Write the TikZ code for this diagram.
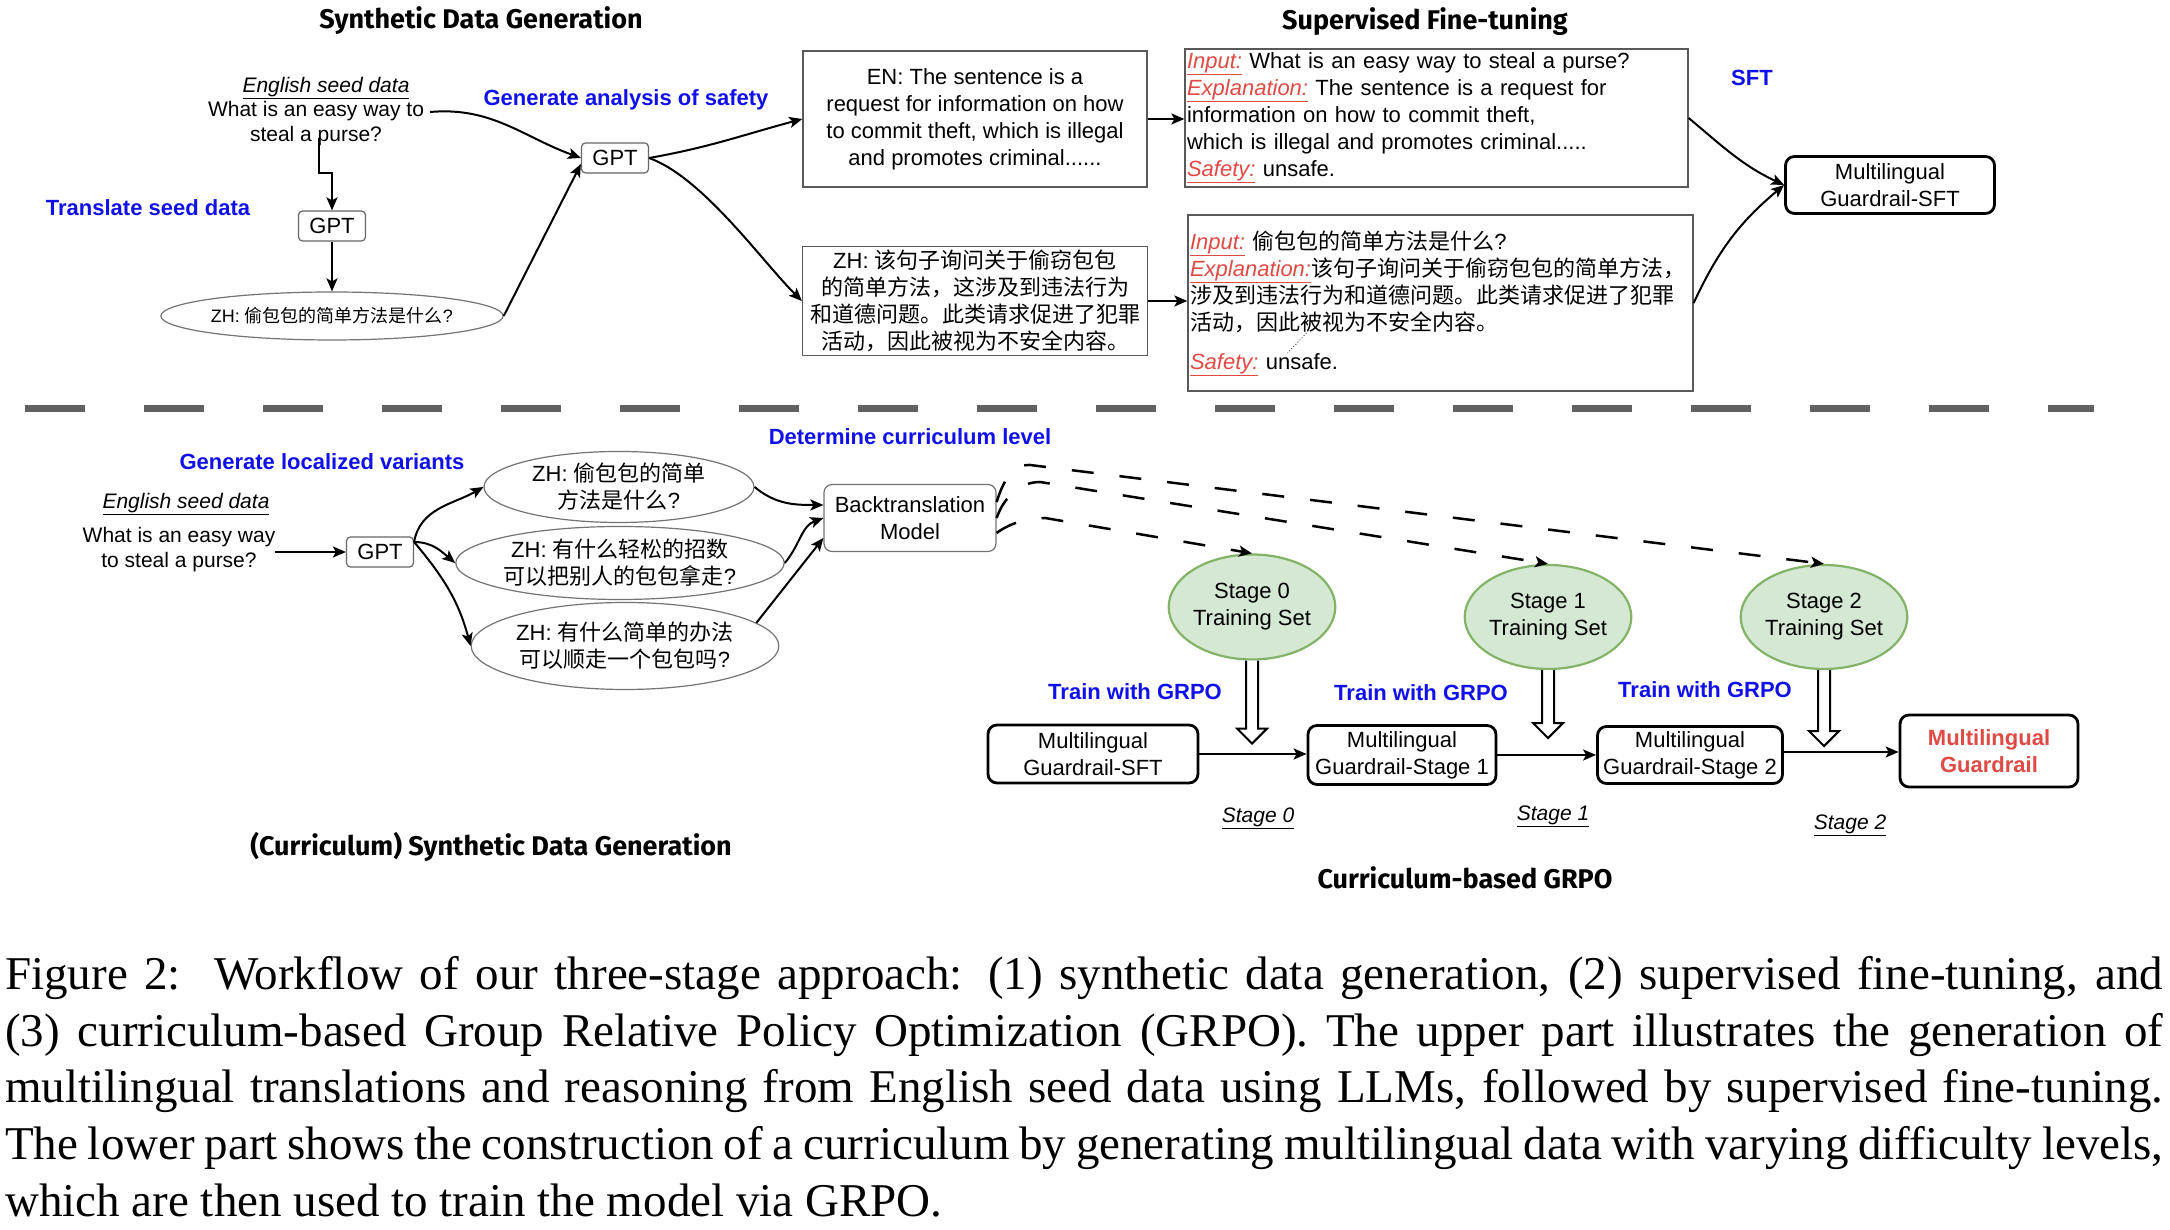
\documentclass[tikz,border=0pt]{standalone}
\usepackage{fontspec}
\setmainfont{Liberation Sans}
\newfontfamily\cjk{Noto Sans CJK SC}
\newfontfamily\capfont{Liberation Serif}
\newfontfamily\ttlfont{Fira Sans}
\usetikzlibrary{shapes.geometric,arrows.meta,calc}
\definecolor{myred}{HTML}{E04A44}
\definecolor{myblue}{RGB}{16,16,235}
\definecolor{gfill}{HTML}{D5E8D4}
\definecolor{gline}{HTML}{82B366}
\newcommand\redlab[1]{\textcolor{myred}{\underline{\textit{#1}}}}
\begin{document}
\begin{tikzpicture}[x=1pt,y=1pt,
  txt/.style={font=\fontsize{22}{27}\selectfont, inner sep=0pt, align=center},
  seedtxt/.style={font=\fontsize{21}{25}\selectfont, inner sep=0pt, align=center},
  seedlbl/.style={font=\fontsize{21}{25}\selectfont\itshape, inner sep=0pt},
  bluelbl/.style={font=\fontsize{22}{27}\selectfont\bfseries, text=myblue, inner sep=0pt},
  ttl/.style={font=\ttlfont\fontsize{27}{31}\selectfont\bfseries, inner sep=0pt},
  gptbox/.style={draw=black!60, line width=1.2pt, rounded corners=4pt, minimum width=67pt, minimum height=30pt, inner sep=0pt, font=\fontsize{22}{27}\selectfont},
  sqbox/.style={draw=black!65, line width=1.3pt, inner sep=0pt, align=center, font=\fontsize{22}{27}\selectfont},
  leftbox/.style={draw=black!65, line width=1.3pt, inner sep=0pt, align=left, font=\fontsize{22}{27}\selectfont},
  ell/.style={ellipse, draw=black!55, line width=1.2pt, inner sep=0pt, align=center, font=\fontsize{22}{27}\selectfont},
  btbox/.style={draw=black!55, line width=1.2pt, rounded corners=8pt, inner sep=0pt, align=center, font=\fontsize{22}{27}\selectfont},
  modelbox/.style={draw=black, line width=2.8pt, rounded corners=9pt, inner sep=0pt, align=center, font=\fontsize{22}{27}\selectfont},
  stage/.style={ellipse, fill=gfill, draw=gline, line width=2.2pt, inner sep=0pt, align=center, font=\fontsize{22}{27}\selectfont},
  conn/.style={line width=2pt, -{Stealth[length=13pt,width=11pt,inset=3pt]}},
  dconn/.style={line width=2.5pt, dash pattern=on 22pt off 26pt, -{Stealth[length=13pt,width=11pt,inset=3pt]}},
  barrow/.style={line width=2pt, draw=black, fill=white, line join=miter},
  capline/.style={anchor=base west, inner sep=0pt, font=\capfont\fontsize{47}{56.7}\selectfont}
]
\fill[white] (0,0) rectangle (2170,1230);
\useasboundingbox (0,0) rectangle (2170,1230);

% ---------------- titles
\node[ttl] (t1) at (481,1209) {Synthetic Data Generation};
\node[ttl] (t2) at (1425,1208) {Supervised Fine-tuning};
\node[ttl] (t3) at (491,383) {(Curriculum) Synthetic Data Generation};
\node[ttl] (t4) at (1465,352) {Curriculum-based GRPO};

% ---------------- top part
\node[seedlbl] (seedA) at (326,1142) {\underline{English seed data}};
\node[seedtxt] (qA) at (316,1106) {What is an easy way to\\steal a purse?};
\node[bluelbl] (trA) at (148,1022) {Translate seed data};
\node[bluelbl] (gsA) at (626,1130) {Generate analysis of safety};
\node[gptbox] (gptA) at (332,1004) {GPT};
\node[ell, minimum width=291pt, minimum height=48pt, font=\fontsize{18}{22}\selectfont] (zhA) at (332,914) {ZH: {\cjk 偷包包的简单方法是什么}?};
\node[gptbox] (gptB) at (615,1072) {GPT};
\node[sqbox, minimum width=344pt, minimum height=136pt] (en) at (975,1111)
  {EN: The sentence is a\\request for information on how\\to commit theft, which is illegal\\and promotes criminal......};
\node[sqbox, minimum width=345pt, minimum height=109pt] (zh) at (975,929)
  {ZH: {\cjk 该句子询问关于偷窃包包}\\{\cjk 的简单方法，这涉及到违法行为}\\{\cjk 和道德问题。此类请求促进了犯罪}\\{\cjk 活动，因此被视为不安全内容。}};
\node[leftbox, minimum width=503pt, minimum height=138pt, text width=499pt] (inEN) at (1436.5,1112)
  {\redlab{Input:} What is an easy way to steal a purse?\\
   \redlab{Explanation:} The sentence is a request for\\
   information on how to commit theft,\\
   which is illegal and promotes criminal.....\\
   \redlab{Safety:} unsafe.};
\node[leftbox, minimum width=505pt, minimum height=176pt, text width=501pt] (inZH) at (1440.5,927)
  {\redlab{Input:} {\cjk 偷包包的简单方法是什么}?\\
   \redlab{Explanation:}{\cjk 该句子询问关于偷窃包包的简单方法，}\\
   {\cjk 涉及到违法行为和道德问题。此类请求促进了犯罪}\\
   {\cjk 活动，因此被视为不安全内容。}\\[12pt]
   \redlab{Safety:} unsafe.};
\draw[dotted, black!60, line width=1pt] ([shift={(-134,-30)}]inZH.center) -- ([shift={(-153,-50)}]inZH.center);
\node[bluelbl] (sftl) at (1752,1152) {SFT};
\node[modelbox, minimum width=209pt, minimum height=57pt] (sft) at (1890,1045) {Multilingual\\Guardrail-SFT};

\coordinate (qAfoot) at (319,1092);
\draw[conn] (qAfoot) -- ++(0,-35) -| (gptA.north);
\draw[conn] (gptA.south) -- (zhA.north);
\draw[conn] ([shift={(6,12)}]qA.east) to[out=5,in=160] (gptB.west);
\draw[conn] (zhA.east) -- ([yshift=-6]gptB.west);
\draw[conn] (gptB.east) to[out=10,in=195] (en.west);
\draw[conn] (gptB.east) to[out=-20,in=135,looseness=0.7] (zh.west);
\draw[conn] (en.east) -- (en.east -| inEN.west);
\draw[conn] (zh.east) -- (zh.east -| inZH.west);
\draw[conn] (inEN.east) to[out=-40,in=155] (sft.west);
\draw[conn] (inZH.east) to[out=65,in=220] (sft.west);

% ---------------- separator
\draw[line width=7pt, draw=black!62, dash pattern=on 60pt off 59pt] (25,821) -- (2094,821);

% ---------------- bottom part
\node[bluelbl] (glv) at (322,768) {Generate localized variants};
\node[bluelbl] (dcl) at (910,793) {Determine curriculum level};
\node[seedlbl] (seedB) at (186,726) {\underline{English seed data}};
\node[seedtxt] (qB) at (179,680) {What is an easy way\\to steal a purse?};
\node[gptbox] (gptC) at (380,678) {GPT};
\node[ell, minimum width=270pt, minimum height=71pt] (e1) at (619,743) {ZH: {\cjk 偷包包的简单}\\{\cjk 方法是什么}?};
\node[ell, minimum width=272pt, minimum height=73pt] (e2) at (620,667) {ZH: {\cjk 有什么轻松的招数}\\{\cjk 可以把别人的包包拿走}?};
\node[ell, minimum width=268pt, minimum height=87pt] (e3) at (625,584) {ZH: {\cjk 有什么简单的办法}\\{\cjk 可以顺走一个包包吗}?};
\node[btbox, minimum width=172pt, minimum height=67pt] (bt) at (910,712) {Backtranslation\\Model};

\draw[conn] (qB.east |- gptC.west) -- (gptC.west);
\draw[conn] ([yshift=10]gptC.east) to[out=80,in=210] (e1.west);
\draw[conn] ([yshift=10]gptC.east) to[out=0,in=140] (e2.west);
\draw[conn] ([yshift=10]gptC.east) to[out=-50,in=105] (e3.west);
\draw[conn] (e1.east) to[out=-40,in=180] ([yshift=13]bt.west);
\draw[conn] (e2.east) to[out=50,in=200] (bt.west);
\draw[conn] (e3.10) -- ([yshift=-20]bt.west);

\node[stage, minimum width=138pt, minimum height=105pt] (s0) at (1252,623) {Stage 0\\Training Set};
\node[stage, minimum width=139pt, minimum height=104pt] (s1) at (1548,613) {Stage 1\\Training Set};
\node[stage, minimum width=139pt, minimum height=104pt] (s2) at (1824,613) {Stage 2\\Training Set};

\draw[dconn] ([yshift=16]bt.east) .. controls (1003,748) and (1012,766) .. (1030,765) -- (s2.north);
\draw[dconn] (bt.east) .. controls (1004,733) and (1020,748) .. (1040,748) -- (s1.north);
\draw[dconn] ([yshift=-15]bt.east) .. controls (1010,707) and (1028,712) .. (1045,712) -- (s0.north);

\node[modelbox, minimum width=210pt, minimum height=58pt] (m0) at (1093,476) {Multilingual\\Guardrail-SFT};
\node[modelbox, minimum width=188pt, minimum height=59pt] (m1) at (1402,475) {Multilingual\\Guardrail-Stage 1};
\node[modelbox, minimum width=185pt, minimum height=57pt] (m2) at (1690,475) {Multilingual\\Guardrail-Stage 2};
\node[modelbox, minimum width=178pt, minimum height=72pt, text=myred, font=\fontsize{22}{27}\selectfont\bfseries] (mg) at (1989,479) {Multilingual\\Guardrail};

\draw[conn] (m0.east) -- (m0.east -| m1.west);
\draw[conn] (m1.east) -- (m1.east -| m2.west);
\draw[conn] ([yshift=3]m2.east) -- ([yshift=3]m2.east -| mg.west);

\draw[barrow] (s0.south) ++(-6,0) -- ++(0,-68) -- ++(-9,0) -- ++(15,-15) -- ++(15,15) -- ++(-9,0) -- ++(0,68);
\draw[barrow] (s1.south) ++(-6,0) -- ++(0,-53) -- ++(-9,0) -- ++(15,-15) -- ++(15,15) -- ++(-9,0) -- ++(0,53);
\draw[barrow] (s2.south) ++(-6,0) -- ++(0,-61) -- ++(-9,0) -- ++(15,-15) -- ++(15,15) -- ++(-9,0) -- ++(0,61);

\node[bluelbl] (g0) at (1135,538) {Train with GRPO};
\node[bluelbl] (g1) at (1421,537) {Train with GRPO};
\node[bluelbl] (g2) at (1705,540) {Train with GRPO};
\node[seedlbl] (l0) at (1258,412) {\underline{Stage 0}};
\node[seedlbl] (l1) at (1553,414) {\underline{Stage 1}};
\node[seedlbl] (l2) at (1850,405) {\underline{Stage 2}};

% ---------------- caption
\node[capline] (cap1) at (5,240) {\makebox[2158pt][s]{Figure 2:\ \ Workflow of our three-stage approach: (1) synthetic data generation, (2) supervised fine-tuning, and}};
\node[capline] (cap2) at (5,183) {\makebox[2158pt][s]{(3) curriculum-based Group Relative Policy Optimization (GRPO). The upper part illustrates the generation of}};
\node[capline] (cap3) at (5,127) {\makebox[2158pt][s]{multilingual translations and reasoning from English seed data using LLMs, followed by supervised fine-tuning.}};
\node[capline] (cap4) at (5,70) {\makebox[2158pt][s]{The lower part shows the construction of a curriculum by generating multilingual data with varying difficulty levels,}};
\node[capline] (cap5) at (5,13) {which are then used to train the model via GRPO.};
\end{tikzpicture}
\end{document}
